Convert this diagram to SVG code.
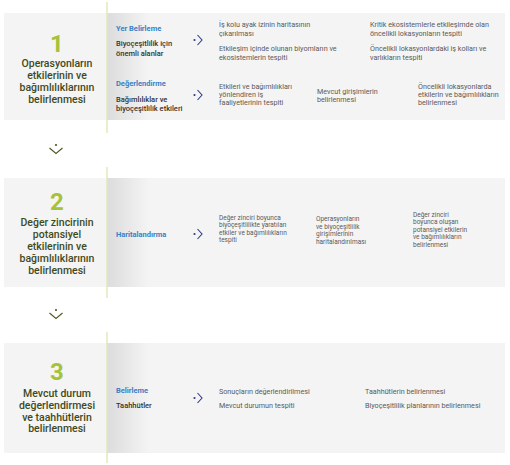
<svg xmlns="http://www.w3.org/2000/svg" width="510" height="465" viewBox="0 0 510 465">
<style>
.panel{fill:#f4f4f4}
.vline{stroke:#e3e9bc;stroke-width:1.5;fill:none}
.num{font-family:Roboto,"Liberation Sans",sans-serif;font-weight:700;font-size:24px;fill:#a6c23a;text-anchor:middle}
.title{font-family:Roboto,"Liberation Sans",sans-serif;font-weight:500;font-size:10.5px;fill:#3f4a1c;text-anchor:middle}
.lab{font-family:Roboto,"Liberation Sans",sans-serif;font-weight:700;font-size:7.5px;fill:#3b80c3}
.sub{font-family:Roboto,"Liberation Sans",sans-serif;font-weight:500;font-size:7.5px;fill:#333}
.txt{font-family:Roboto,"Liberation Sans",sans-serif;font-size:7.2px;fill:#5a5a5a}
.txt2{font-family:Roboto,"Liberation Sans",sans-serif;font-size:6.5px;fill:#5a5a5a}
.arr{stroke:#2f3a85;stroke-width:1.1;fill:none}
.dot{fill:#2f3a85}
.down{stroke:#4b5a22;stroke-width:1.1;fill:none}
.ddot{fill:#4b5a22}
</style>
<defs>
<linearGradient id="shade" x1="0" y1="0" x2="1" y2="0">
<stop offset="0" stop-color="#dcdcdc"/>
<stop offset="1" stop-color="#f4f4f4"/>
</linearGradient>
<linearGradient id="div" x1="0" y1="0" x2="1" y2="0">
<stop offset="0" stop-color="#dedede"/>
<stop offset="1" stop-color="#e6e8c4"/>
</linearGradient>
</defs>

<g id="step1">
<rect class="panel" x="4" y="13" width="501" height="107"/>
<rect x="107" y="13" width="42" height="107" fill="url(#shade)"/>
<line class="vline" x1="107" y1="2" x2="107" y2="133"/>
<text class="num" x="57" y="52">1</text>
<text class="title" x="57" y="66.5">Operasyonların</text>
<text class="title" x="57" y="78.5">etkilerinin ve</text>
<text class="title" x="57" y="90.5">bağımlılıklarının</text>
<text class="title" x="57" y="102.5">belirlenmesi</text>
<text class="lab" x="116" y="31">Yer Belirleme</text>
<text class="sub" x="116" y="46">Biyoçeşitlilik için</text>
<text class="sub" x="116" y="56">önemli alanlar</text>
<circle class="dot" cx="194.5" cy="40" r="1.1"/>
<polyline class="arr" points="197.5,35 202,40 197.5,45"/>
<text class="txt" x="219" y="26.5">İş kolu ayak izinin haritasının</text>
<text class="txt" x="219" y="35.5">çıkarılması</text>
<text class="txt" x="219" y="50.5">Etkileşim içinde olunan biyomların ve</text>
<text class="txt" x="219" y="59.5">ekosistemlerin tespiti</text>
<text class="txt" x="370" y="26.5">Kritik ekosistemlerle etkileşimde olan</text>
<text class="txt" x="370" y="35.5">öncelikli lokasyonların tespiti</text>
<text class="txt" x="370" y="50.5">Öncelikli lokasyonlardaki iş kolları ve</text>
<text class="txt" x="370" y="59.5">varlıkların tespiti</text>
<line x1="112" y1="67" x2="495" y2="67" stroke="url(#div)" stroke-width="1"/>
<text class="lab" x="116" y="86">Değerlendirme</text>
<text class="sub" x="116" y="101.5">Bağımlılıklar ve</text>
<text class="sub" x="116" y="110.5">biyoçeşitlilik etkileri</text>
<circle class="dot" cx="194.5" cy="95" r="1.1"/>
<polyline class="arr" points="197.5,90 202,95 197.5,100"/>
<text class="txt" x="219" y="88.5">Etkileri ve bağımlılıkları</text>
<text class="txt" x="219" y="96.8">yönlendiren iş</text>
<text class="txt" x="219" y="105.1">faaliyetlerinin tespiti</text>
<text class="txt" x="317" y="93.5">Mevcut girişimlerin</text>
<text class="txt" x="317" y="101.8">belirlenmesi</text>
<text class="txt" x="418" y="88.5">Öncelikli lokasyonlarda</text>
<text class="txt" x="418" y="96.8">etkilerin ve bağımlılıkların</text>
<text class="txt" x="418" y="105.1">belirlenmesi</text>
</g>

<g id="step2">
<rect class="panel" x="4" y="178" width="501" height="109"/>
<rect x="107" y="178" width="42" height="109" fill="url(#shade)"/>
<line class="vline" x1="107" y1="167" x2="107" y2="298"/>
<text class="num" x="57" y="210">2</text>
<text class="title" x="57" y="225.5">Değer zincirinin</text>
<text class="title" x="57" y="237.5">potansiyel</text>
<text class="title" x="57" y="249.5">etkilerinin ve</text>
<text class="title" x="57" y="261.5">bağımlılıklarının</text>
<text class="title" x="57" y="273.5">belirlenmesi</text>
<text class="lab" x="116" y="237">Haritalandırma</text>
<circle class="dot" cx="194.5" cy="234" r="1.1"/>
<polyline class="arr" points="197.5,229 202,234 197.5,239"/>
<text class="txt2" x="219" y="219.5">Değer zinciri boyunca</text>
<text class="txt2" x="219" y="227">biyoçeşitlilikte yaratılan</text>
<text class="txt2" x="219" y="234.5">etkiler ve bağımlılıkların</text>
<text class="txt2" x="219" y="242">tespiti</text>
<text class="txt2" x="316" y="221">Operasyonların</text>
<text class="txt2" x="316" y="228.5">ve biyoçeşitlilik</text>
<text class="txt2" x="316" y="236">girişimlerinin</text>
<text class="txt2" x="316" y="243.5">haritalandırılması</text>
<text class="txt2" x="413" y="216.5">Değer zinciri</text>
<text class="txt2" x="413" y="224">boyunca oluşan</text>
<text class="txt2" x="413" y="231.5">potansiyel etkilerin</text>
<text class="txt2" x="413" y="239">ve bağımlılıkların</text>
<text class="txt2" x="413" y="246.5">belirlenmesi</text>
</g>

<g id="step3">
<rect class="panel" x="4" y="343" width="501" height="110"/>
<rect x="107" y="343" width="42" height="110" fill="url(#shade)"/>
<line class="vline" x1="107" y1="332" x2="107" y2="463"/>
<text class="num" x="57" y="380">3</text>
<text class="title" x="57" y="396.5">Mevcut durum</text>
<text class="title" x="57" y="408.5">değerlendirmesi</text>
<text class="title" x="57" y="420.5">ve taahhütlerin</text>
<text class="title" x="57" y="432">belirlenmesi</text>
<text class="lab" x="116" y="393">Belirleme</text>
<text class="sub" x="116" y="408">Taahhütler</text>
<circle class="dot" cx="194.5" cy="398" r="1.1"/>
<polyline class="arr" points="197.5,393 202,398 197.5,403"/>
<text class="txt" x="219" y="393.5">Sonuçların değerlendirilmesi</text>
<text class="txt" x="219" y="407.5">Mevcut durumun tespiti</text>
<text class="txt" x="365" y="393.5">Taahhütlerin belirlenmesi</text>
<text class="txt" x="365" y="407.5">Biyoçeşitlilik planlarının belirlenmesi</text>
</g>

<g id="connectors">
<circle class="ddot" cx="56" cy="145" r="1.1"/>
<polyline class="down" points="49.5,148 56,153.5 62.5,148"/>
<circle class="ddot" cx="56" cy="310" r="1.1"/>
<polyline class="down" points="49.5,313 56,318.5 62.5,313"/>
</g>
</svg>
